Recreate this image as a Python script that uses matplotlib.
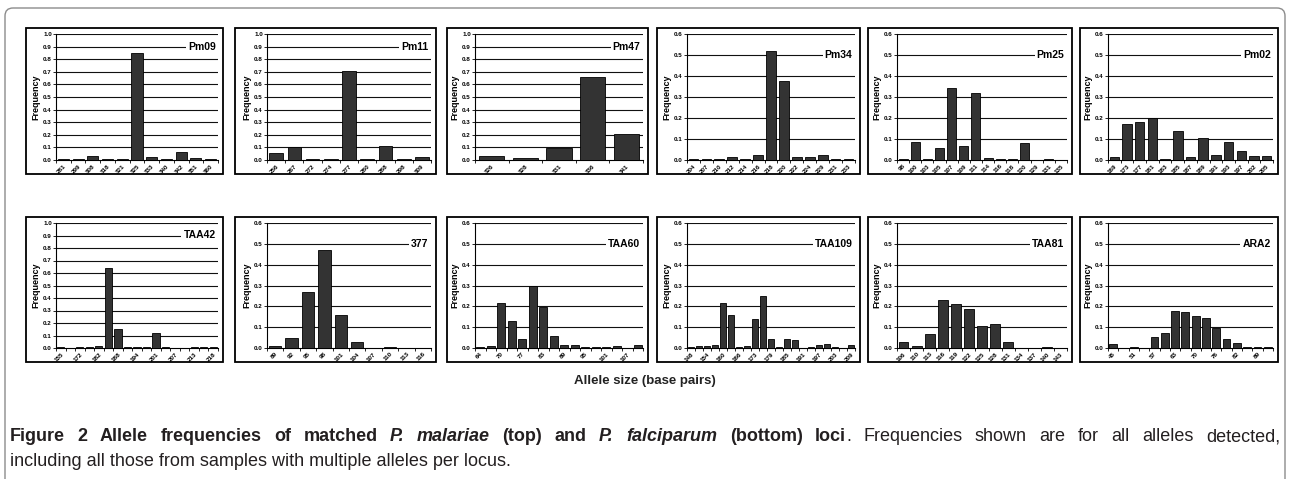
import numpy as np
import matplotlib.pyplot as plt
from matplotlib.patches import Rectangle
from matplotlib.path import Path
from matplotlib.patches import PathPatch

plt.rcParams['font.family'] = ['Liberation Sans', 'DejaVu Sans']

# ---- data ----
pm09_labels = ['281', '299', '308', '318', '321', '325', '333', '340', '342', '351', '360']
pm09_freq = [0.005, 0.005, 0.03, 0.005, 0.005, 0.85, 0.025, 0.005, 0.065, 0.015, 0.005]

pm11_labels = ['256', '267', '272', '274', '277', '280', '288', '298', '309']
pm11_freq = [0.055, 0.1, 0.005, 0.005, 0.71, 0.01, 0.115, 0.005, 0.02]

pm47_labels = ['326', '328', '331', '336', '341']
pm47_freq = [0.03, 0.015, 0.095, 0.66, 0.21]

pm34_labels = ['204', '207', '210', '212', '214', '216', '218', '220', '222', '224', '229', '231', '233']
pm34_freq = [0.005, 0.005, 0.005, 0.012, 0.007, 0.025, 0.52, 0.375, 0.012, 0.015, 0.025, 0.005, 0.005]

pm25_labels = ['98', '100', '103', '105', '107', '109', '111', '114', '116', '118', '120', '129', '131', '135']
pm25_freq = [0.005, 0.088, 0.005, 0.055, 0.345, 0.068, 0.32, 0.008, 0.005, 0.005, 0.08, 0.002, 0.005, 0.002]

pm02_labels = ['169', '173', '177', '181', '183', '185', '187', '189', '191', '193', '197', '202', '205']
pm02_freq = [0.012, 0.172, 0.18, 0.2, 0.005, 0.138, 0.015, 0.103, 0.023, 0.085, 0.045, 0.017, 0.02]

taa42_labels = ['155', '', '172', '', '182', '', '188', '', '194', '', '201', '', '207', '', '213', '', '218']
taa42_freq = [0.005, 0.0, 0.005, 0.01, 0.02, 0.64, 0.155, 0.005, 0.005, 0.005, 0.12, 0.01, 0.0, 0.0, 0.005, 0.005, 0.01]

s377_labels = ['89', '92', '95', '98', '101', '104', '107', '110', '113', '116']
s377_freq = [0.01, 0.048, 0.27, 0.47, 0.16, 0.03, 0.002, 0.005, 0.002, 0.002]

taa60_labels = ['64', '', '70', '', '77', '', '83', '', '89', '', '95', '', '101', '', '107', '']
taa60_freq = [0.005, 0.01, 0.215, 0.13, 0.045, 0.30, 0.195, 0.058, 0.015, 0.015, 0.005, 0.005, 0.005, 0.01, 0.0, 0.015]

taa109_labels = ['148', '', '154', '', '160', '', '166', '', '173', '', '179', '', '185', '', '191', '', '197', '', '203', '', '209']
taa109_freq = [0.005, 0.01, 0.01, 0.015, 0.215, 0.16, 0.003, 0.01, 0.14, 0.25, 0.045, 0.005, 0.045, 0.038, 0.0,
               0.003, 0.013, 0.02, 0.005, 0.0, 0.013]

taa81_labels = ['106', '110', '113', '116', '119', '122', '125', '128', '131', '134', '137', '140', '143']
taa81_freq = [0.028, 0.01, 0.065, 0.23, 0.21, 0.185, 0.105, 0.115, 0.03, 0.0, 0.0, 0.005, 0.0]

ara2_labels = ['45', '', '51', '', '57', '', '63', '', '70', '', '76', '', '82', '', '89', '']
ara2_freq = [0.018, 0.0, 0.003, 0.0, 0.055, 0.07, 0.18, 0.175, 0.155, 0.145, 0.095, 0.045, 0.025, 0.005, 0.005, 0.003]

top_names = ['Pm09', 'Pm11', 'Pm47', 'Pm34', 'Pm25', 'Pm02']
bot_names = ['TAA42', '377', 'TAA60', 'TAA109', 'TAA81', 'ARA2']
top_data = [(pm09_labels, pm09_freq), (pm11_labels, pm11_freq), (pm47_labels, pm47_freq),
            (pm34_labels, pm34_freq), (pm25_labels, pm25_freq), (pm02_labels, pm02_freq)]
bot_data = [(taa42_labels, taa42_freq), (s377_labels, s377_freq), (taa60_labels, taa60_freq),
            (taa109_labels, taa109_freq), (taa81_labels, taa81_freq), (ara2_labels, ara2_freq)]
top_ymax = [1.0, 1.0, 1.0, 0.6, 0.6, 0.6]
bot_ymax = [1.0, 0.6, 0.6, 0.6, 0.6, 0.6]

# ---- layout in pixels ----
W, H = 1290, 479
fig = plt.figure(figsize=(W / 100, H / 100), dpi=100)

def fx(x):
    return x / W

def fy(y):
    return 1 - y / H

panel_left = [26, 235, 447, 657, 868, 1080]
panel_right = [223, 436, 648, 860, 1072, 1278]
axis_x = [56, 267, 475, 687, 897, 1108]
rows = [(28, 174, 34, 160), (217, 362, 223, 348)]  # panel top, panel bottom, plot top, plot bottom


def draw_panel(i, row, name, labels, freq, ymax):
    ptop, pbot, atop, abot = rows[row]
    fig.patches.append(Rectangle((fx(panel_left[i]), fy(pbot)), fx(panel_right[i] - panel_left[i]),
                                 (pbot - ptop) / H, transform=fig.transFigure, fill=False,
                                 edgecolor='black', linewidth=1.3, zorder=0))
    ax = fig.add_axes([fx(axis_x[i]), fy(abot), fx(panel_right[i] - 5 - axis_x[i]), (abot - atop) / H])
    n = len(freq)
    x = np.arange(n)
    ax.bar(x, freq, width=0.75, color='#333333', edgecolor='black', linewidth=0.6, zorder=3)
    ax.set_xlim(-0.5, n - 0.5)
    ax.set_ylim(0, ymax)
    yt = np.round(np.arange(0, ymax + 0.001, 0.1), 1)
    ax.set_yticks(yt)
    ax.set_yticklabels(['%.1f' % v for v in yt], fontsize=4.5, fontweight='bold')
    for v in yt[1:]:
        ax.axhline(v, color='#111111', linewidth=0.8, zorder=1)
    ax.set_xticks(x)
    ax.set_xticklabels(labels, rotation=45, ha='right', rotation_mode='anchor', fontsize=4.5, fontweight='bold')
    ax.set_xticks(np.arange(-0.5, n, 1), minor=True)
    ax.tick_params(axis='x', which='major', length=0, pad=2.5)
    ax.tick_params(axis='x', which='minor', length=2, width=0.6, direction='out')
    ax.tick_params(axis='y', length=2, width=0.6, pad=1)
    for s in ['top', 'right']:
        ax.spines[s].set_visible(False)
    for s in ['left', 'bottom']:
        ax.spines[s].set_linewidth(0.8)
    ax.set_ylabel('Frequency', fontsize=6.5, fontweight='bold', labelpad=2)
    ax.text(0.985, yt[-2], name, transform=ax.get_yaxis_transform(), ha='right', va='center',
            fontsize=7.5, fontweight='bold', zorder=4,
            bbox=dict(facecolor='white', edgecolor='none', pad=1.5))
    ax.patch.set_alpha(0)


for i in range(6):
    draw_panel(i, 0, top_names[i], top_data[i][0], top_data[i][1], top_ymax[i])
    draw_panel(i, 1, bot_names[i], bot_data[i][0], bot_data[i][1], bot_ymax[i])

fig.text(fx(645), fy(381), 'Allele size (base pairs)', ha='center', va='center',
         fontsize=9.5, fontweight='bold', color='#222222')

# outer frame: rounded top corners, open at the bottom
r = 8
verts = [(5, 479), (5, 8 + r), (5, 8), (5 + r, 8), (1285 - r, 8), (1285, 8), (1285, 8 + r), (1285, 479)]
codes = [Path.MOVETO, Path.LINETO, Path.CURVE3, Path.CURVE3, Path.LINETO, Path.CURVE3, Path.CURVE3, Path.LINETO]
frame = Path([(fx(a), fy(b)) for a, b in verts], codes)
fig.patches.append(PathPatch(frame, transform=fig.transFigure, fill=False, edgecolor='#8c8c8c', linewidth=1.0))

# caption, justified first line
fig.canvas.draw()
renderer = fig.canvas.get_renderer()
B, BI, R = ('bold', 'normal'), ('bold', 'italic'), ('normal', 'normal')
words1 = [[('Figure', B)], [('2', B)], [('Allele', B)], [('frequencies', B)], [('of', B)], [('matched', B)],
          [('P.', BI)], [('malariae', BI)], [('(top)', B)], [('and', B)], [('P.', BI)], [('falciparum', BI)],
          [('(bottom)', B)], [('loci', B), ('.', R)], [('Frequencies', R)], [('shown', R)], [('are', R)],
          [('for', R)], [('all', R)], [('alleles', R)], [('detected,', R)]]
cap_size = 13
cap_color = '#231f20'


def place_word(parts, x, y):
    for txt, (wt, st) in parts:
        t = fig.text(fx(x), fy(y), txt, fontsize=cap_size, fontweight=wt, fontstyle=st,
                     color=cap_color, va='baseline', ha='left')
        x += t.get_window_extent(renderer).width
    return x


def word_width(parts):
    w = 0
    for txt, (wt, st) in parts:
        t = fig.text(0, 0, txt, fontsize=cap_size, fontweight=wt, fontstyle=st)
        w += t.get_window_extent(renderer).width
        t.remove()
    return w


widths = [word_width(w) for w in words1]
gap = (1280 - 10 - sum(widths)) / (len(words1) - 1)
x = 10
for w, wd in zip(words1, widths):
    place_word(w, x, 441)
    x += wd + gap

fig.text(fx(10), fy(466), 'including all those from samples with multiple alleles per locus.',
         fontsize=cap_size, color=cap_color, va='baseline', ha='left')

fig.savefig('out.png', dpi=100)
